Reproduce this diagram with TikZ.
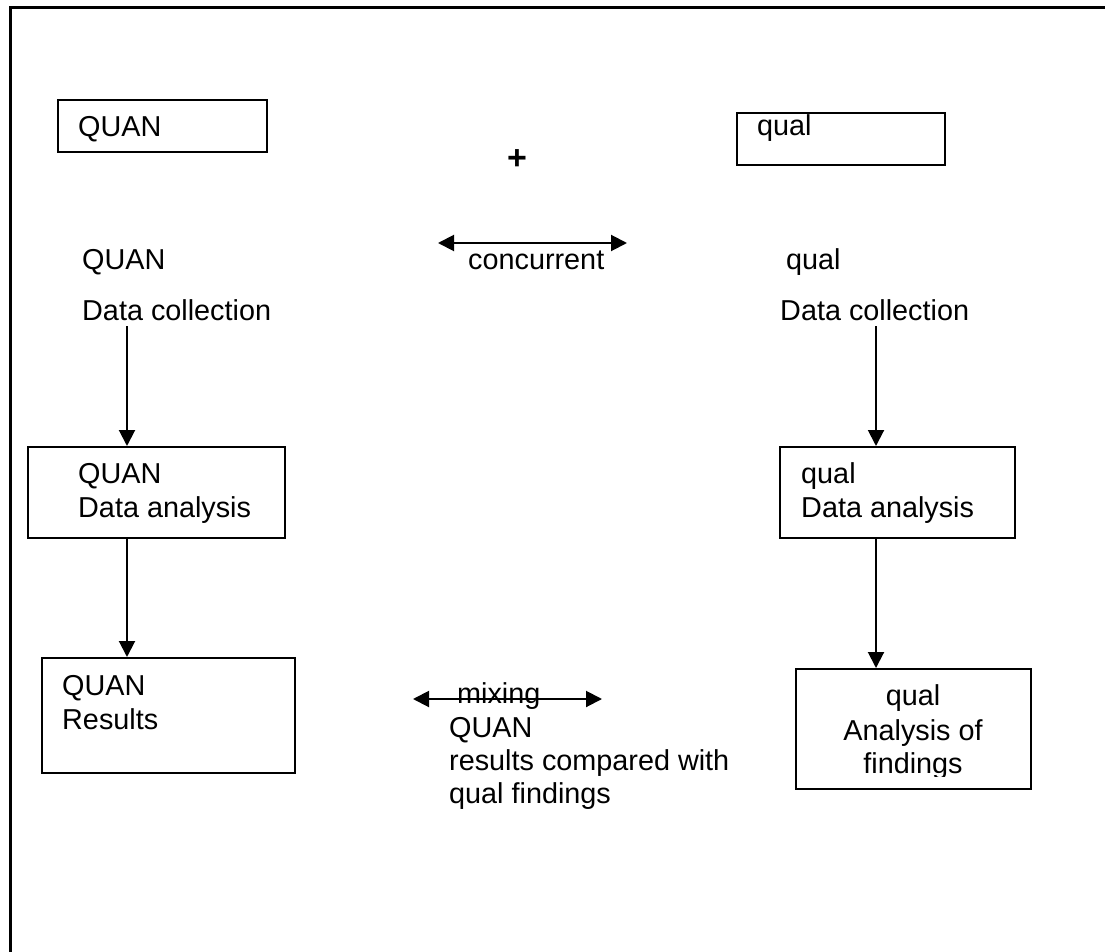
\documentclass[tikz,border=0pt]{standalone}
\usepackage{fontspec}
\setmainfont{Liberation Sans}
\usetikzlibrary{arrows.meta}
\begin{document}
\begin{tikzpicture}[x=1pt,y=-1pt,
  txt/.style={anchor=base west,inner sep=0pt,font=\fontsize{28.8}{34}\selectfont},
  txtc/.style={anchor=base,inner sep=0pt,font=\fontsize{28.8}{34}\selectfont},
  box/.style={draw,line width=2pt,inner sep=0pt,anchor=north west},
  tip/.tip={Triangle[length=16pt,width=16pt]},
  arr/.style={line width=2pt,-tip},
  darr/.style={line width=2pt,tip-tip}]
\useasboundingbox (0,0) rectangle (1105,952);
% frame
\draw[line width=3pt] (10,970) -- (10,8) -- (1120,8);
% boxes
\node[box,minimum width=209pt,minimum height=52pt] (b1) at (57,99) {};
\node[box,minimum width=208pt,minimum height=52pt] (b2) at (736,112) {};
\node[box,minimum width=257pt,minimum height=91pt] (b3) at (27,446) {};
\node[box,minimum width=235pt,minimum height=91pt] (b4) at (779,446) {};
\node[box,minimum width=253pt,minimum height=115pt] (b5) at (41,657) {};
\node[box,minimum width=235pt,minimum height=120pt] (b6) at (795,668) {};
% texts
\node[txt] (t1) at (78,137) {QUAN};
\node[txtc,font=\fontsize{34}{40}\selectfont\bfseries] (plus) at (517,170) {+};
\node[txt] (t2) at (757,136) {qual};
\node[txt] (t3) at (82,269) {QUAN};
\node[txt] (t4) at (82,320) {Data collection};
\node[txt] (t5) at (786,269) {qual};
\node[txt] (t6) at (780,320) {Data collection};
\node[txt] (conc) at (468,269) {concurrent};
\node[txt] (t7) at (78,483) {QUAN};
\node[txt] (t8) at (78,517) {Data analysis};
\node[txt] (t9) at (801,483) {qual};
\node[txt] (t10) at (801,517) {Data analysis};
\node[txt] (t11) at (62,695) {QUAN};
\node[txt] (t12) at (62,729) {Results};
\node[txt] (mix) at (457,703) {mixing};
\node[txt] (t13) at (449,737) {QUAN};
\node[txt] (t14) at (449,770) {results compared with};
\node[txt] (t15) at (449,803) {qual findings};
\node[txtc] (t16) at (913,705) {qual};
\node[txtc] (t17) at (913,740) {Analysis of};
\begin{scope}
\clip (795,740) rectangle (1030,776);
\node[txtc] (t18) at (913,773) {findings};
\end{scope}
% connectors
\coordinate (s1) at (127,326);
\coordinate (s2) at (876,326);
\draw[arr] (s1) -- (s1 |- b3.north);
\draw[arr] (b3.south -| s1) -- (s1 |- b5.north);
\draw[arr] (s2) -- (s2 |- b4.north);
\draw[arr] (b4.south -| s2) -- (s2 |- b6.north);
\coordinate (c1) at (438,243);
\coordinate (c2) at (627,243);
\draw[darr] (c1) -- (c2);
\coordinate (m1) at (413,699);
\coordinate (m2) at (602,699);
\draw[darr] (m1) -- (m2);
\end{tikzpicture}
\end{document}
